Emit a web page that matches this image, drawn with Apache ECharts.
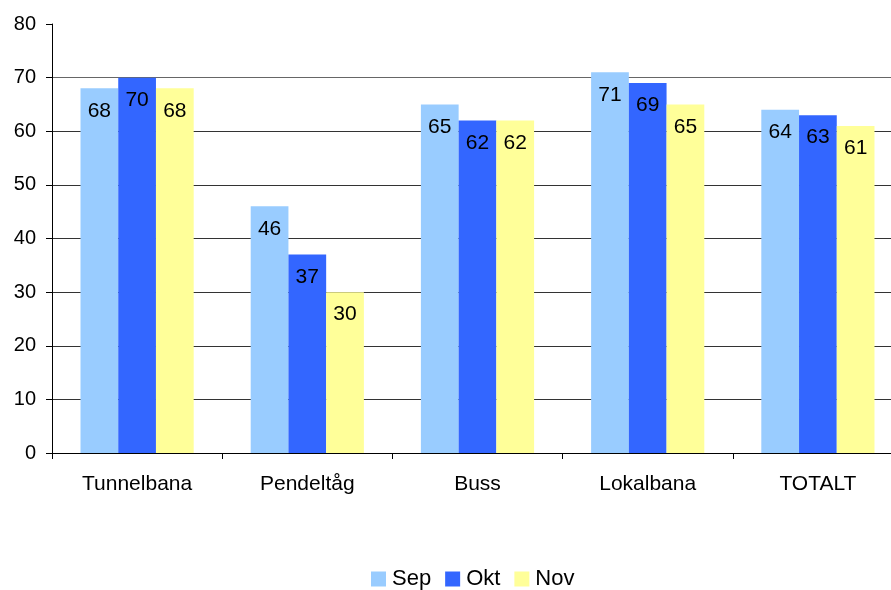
<!DOCTYPE html>
<html>
<head>
<meta charset="utf-8">
<script src="https://cdn.jsdelivr.net/npm/echarts@6/dist/echarts.min.js"></script>
<style>
  html, body { margin: 0; padding: 0; background: #fff; }
  #chart { width: 891px; height: 590px; }
</style>
</head>
<body>
<div id="chart"></div>
<script>
// Categories and monthly values
const categories = ['Tunnelbana', 'Pendeltåg', 'Buss', 'Lokalbana', 'TOTALT'];
const sep = [68, 46, 65, 71, 64];
const okt = [70, 37, 62, 69, 63];
const nov = [68, 30, 62, 65, 61];
const seriesNames = ['Sep', 'Okt', 'Nov'];
const seriesColors = ['#99CCFF', '#3366FF', '#FFFF99'];

const font = 'Arial, "Liberation Sans", sans-serif';

function barSeries(name, data, color) {
  return {
    name: name,
    type: 'bar',
    data: data,
    barGap: '0%',
    barCategoryGap: '33.5%',
    itemStyle: { color: color },
    label: {
      show: true,
      position: 'insideTop',
      distance: 12,
      color: '#000',
      fontFamily: font,
      fontSize: 21
    }
  };
}

const chart = echarts.init(document.getElementById('chart'));
chart.setOption({
  animation: false,
  backgroundColor: '#fff',
  // plot area runs slightly past the right edge of the canvas
  grid: { left: 52, top: 24, width: 851, bottom: 137, containLabel: false, outerBoundsMode: 'none' },
  legend: {
    data: seriesNames,
    left: 371,
    top: 568,
    padding: 0,
    itemWidth: 15,
    itemHeight: 15,
    itemGap: 14,
    icon: 'rect',
    textStyle: { fontFamily: font, fontSize: 22, color: '#000', padding: [0, 0, 0, 1] }
  },
  xAxis: {
    type: 'category',
    data: categories,
    axisLine: { lineStyle: { color: '#000', width: 1 } },
    axisTick: { show: true, length: 6, lineStyle: { color: '#000' } },
    axisLabel: { margin: 21, color: '#000', fontFamily: font, fontSize: 21 }
  },
  yAxis: {
    type: 'value',
    min: 0,
    max: 80,
    interval: 10,
    axisLine: { show: true, lineStyle: { color: '#000', width: 1 } },
    axisTick: { show: true, length: 6, inside: false, lineStyle: { color: '#000' } },
    axisLabel: { margin: 16, color: '#000', fontFamily: font, fontSize: 20 },
    splitLine: {
      show: true,
      lineStyle: {
        color: ['#000', '#333', '#333', '#333', '#333', '#333', '#333', '#666', 'rgba(0,0,0,0)'],
        width: 1
      }
    }
  },
  series: [
    barSeries(seriesNames[0], sep, seriesColors[0]),
    barSeries(seriesNames[1], okt, seriesColors[1]),
    barSeries(seriesNames[2], nov, seriesColors[2])
  ]
});
</script>
</body>
</html>
